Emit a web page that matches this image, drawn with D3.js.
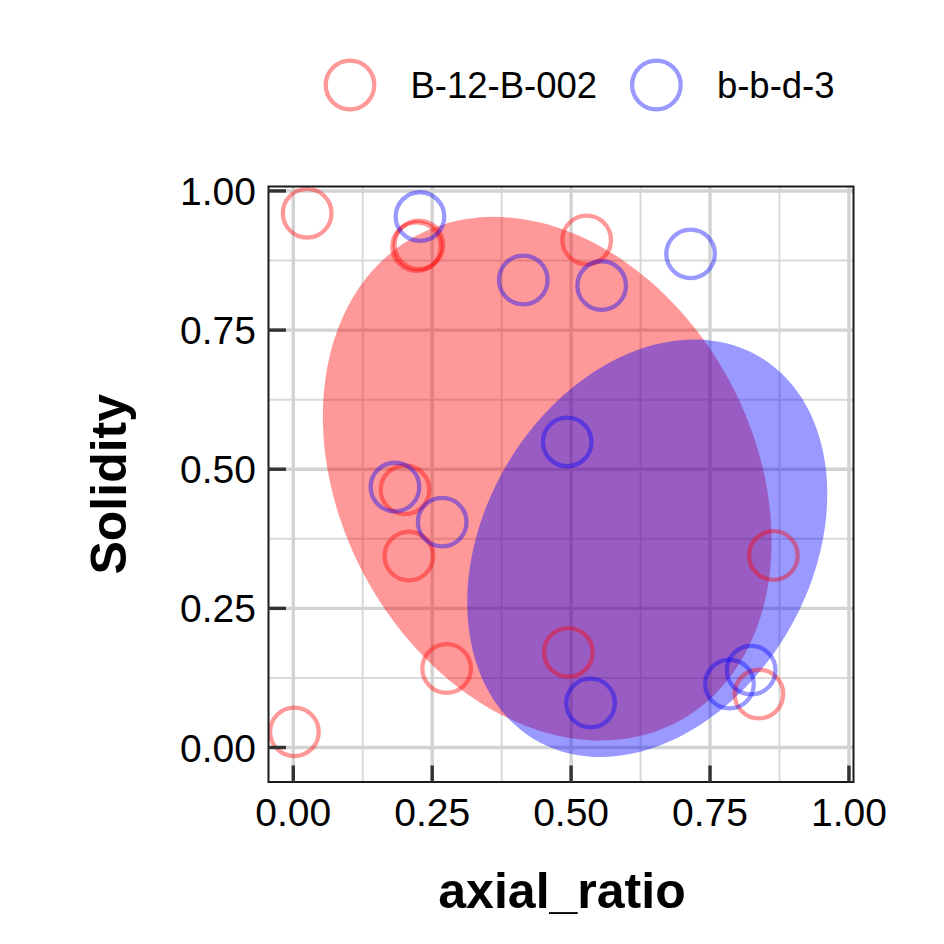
<!DOCTYPE html>
<html>
<head>
<meta charset="utf-8">
<script src="https://cdn.jsdelivr.net/npm/d3@7"></script>
<style>
  html, body { margin: 0; padding: 0; background: #fff; }
  svg { display: block; }
  text { font-family: "Liberation Sans", Arial, Helvetica, sans-serif; }
</style>
</head>
<body>
<svg id="chart" width="944" height="944"></svg>
<script>
// ---------- data ----------
const groups = ["B-12-B-002", "b-b-d-3"];
const groupColors = ["#FF0000", "#0000FF"];

const redX = [0.025, 0.226, 0.222, 0.528, 0.201, 0.208, 0.276, 0.002, 0.838, 0.864, 0.495];
const redY = [0.960, 0.903, 0.900, 0.912, 0.463, 0.344, 0.142, 0.028, 0.096, 0.345, 0.171];

const blueX = [0.228, 0.414, 0.555, 0.715, 0.493, 0.183, 0.268, 0.535, 0.785, 0.824];
const blueY = [0.954, 0.840, 0.830, 0.887, 0.549, 0.468, 0.405, 0.080, 0.114, 0.139];

// ellipse parameters (data units): centre, semi-axes, rotation (degrees)
const ellipseCX = [0.457, 0.637];
const ellipseCY = [0.483, 0.358];
const ellipseA = [0.496, 0.399];
const ellipseB = [0.372, 0.294];
const ellipseAngle = [-61.4, 59.7];

const majorTicks = [0, 0.25, 0.5, 0.75, 1];
const minorTicks = [0.125, 0.375, 0.625, 0.875];
const tickLabels = ["0.00", "0.25", "0.50", "0.75", "1.00"];

// ---------- layout ----------
const svg = d3.select("#chart");
const panel = { left: 268.5, right: 853.5, top: 186.5, bottom: 782 };

const x = d3.scaleLinear().domain([-0.0446, 1.0082]).range([panel.left, panel.right]);
const y = d3.scaleLinear().domain([-0.062, 1.008]).range([panel.bottom, panel.top]);

// grid
const grid = svg.append("g");
grid.selectAll(".vminor").data(minorTicks).enter().append("line")
  .attr("x1", d => x(d)).attr("x2", d => x(d))
  .attr("y1", panel.top).attr("y2", panel.bottom)
  .attr("stroke", "#d9d9d9").attr("stroke-width", 2);
grid.selectAll(".hminor").data(minorTicks).enter().append("line")
  .attr("y1", d => y(d)).attr("y2", d => y(d))
  .attr("x1", panel.left).attr("x2", panel.right)
  .attr("stroke", "#d9d9d9").attr("stroke-width", 2);
grid.selectAll(".vmajor").data(majorTicks).enter().append("line")
  .attr("x1", d => x(d)).attr("x2", d => x(d))
  .attr("y1", panel.top).attr("y2", panel.bottom)
  .attr("stroke", "#d3d3d3").attr("stroke-width", 3.4);
grid.selectAll(".hmajor").data(majorTicks).enter().append("line")
  .attr("y1", d => y(d)).attr("y2", d => y(d))
  .attr("x1", panel.left).attr("x2", panel.right)
  .attr("stroke", "#d3d3d3").attr("stroke-width", 3.4);

// ellipses
function ellipsePoints(i) {
  const n = 180, th = ellipseAngle[i] * Math.PI / 180;
  const pts = [];
  for (let k = 0; k < n; k++) {
    const t = 2 * Math.PI * k / n;
    const ex = ellipseA[i] * Math.cos(t), ey = ellipseB[i] * Math.sin(t);
    pts.push([ellipseCX[i] + ex * Math.cos(th) - ey * Math.sin(th),
              ellipseCY[i] + ex * Math.sin(th) + ey * Math.cos(th)]);
  }
  return pts;
}
const line = d3.line().x(d => x(d[0])).y(d => y(d[1])).curve(d3.curveLinearClosed);
svg.append("clipPath").attr("id", "clip").append("rect")
  .attr("x", panel.left).attr("y", panel.top)
  .attr("width", panel.right - panel.left).attr("height", panel.bottom - panel.top);
const plot = svg.append("g").attr("clip-path", "url(#clip)");
[0, 1].forEach(i => {
  plot.append("path").attr("d", line(ellipsePoints(i)))
    .attr("fill", groupColors[i]).attr("fill-opacity", 0.4).attr("stroke", "none");
});

// points
const series = [
  redX.map((v, i) => ({ x: v, y: redY[i], g: 0 })),
  blueX.map((v, i) => ({ x: v, y: blueY[i], g: 1 }))
];
series.forEach(s => {
  plot.selectAll(null).data(s).enter().append("circle")
    .attr("cx", d => x(d.x)).attr("cy", d => y(d.y)).attr("r", 24.3)
    .attr("fill", "none").attr("stroke", d => groupColors[d.g])
    .attr("stroke-opacity", 0.4).attr("stroke-width", 4.3);
});

// panel border
svg.append("rect")
  .attr("x", panel.left).attr("y", panel.top)
  .attr("width", panel.right - panel.left).attr("height", panel.bottom - panel.top)
  .attr("fill", "none").attr("stroke", "#1a1a1a").attr("stroke-width", 2);

// ticks (inward)
svg.selectAll(".ytick").data(majorTicks).enter().append("line")
  .attr("x1", panel.left).attr("x2", panel.left + 17.5)
  .attr("y1", d => y(d)).attr("y2", d => y(d))
  .attr("stroke", "#333333").attr("stroke-width", 3.4);
svg.selectAll(".xtick").data(majorTicks).enter().append("line")
  .attr("y1", panel.bottom).attr("y2", panel.bottom - 16.5)
  .attr("x1", d => x(d)).attr("x2", d => x(d))
  .attr("stroke", "#333333").attr("stroke-width", 3.4);

// tick labels
svg.selectAll(".ylab").data(majorTicks).enter().append("text")
  .attr("x", 256).attr("y", d => y(d)).attr("dy", "0.36em")
  .attr("text-anchor", "end").attr("font-size", 39).attr("fill", "#000")
  .text((d, i) => tickLabels[i]);
svg.selectAll(".xlab").data(majorTicks).enter().append("text")
  .attr("x", d => x(d)).attr("y", 826)
  .attr("text-anchor", "middle").attr("font-size", 39).attr("fill", "#000")
  .text((d, i) => tickLabels[i]);

// axis titles
svg.append("text").attr("x", (panel.left + panel.right) / 2 + 1).attr("y", 908)
  .attr("text-anchor", "middle").attr("font-size", 50).attr("font-weight", "bold")
  .text("axial_ratio");
svg.append("text")
  .attr("transform", `translate(126,${(panel.top + panel.bottom) / 2}) rotate(-90)`)
  .attr("text-anchor", "middle").attr("font-size", 50).attr("font-weight", "bold")
  .text("Solidity");

// legend
const legendX = [350, 656.4];
const legend = svg.append("g");
groups.forEach((g, i) => {
  legend.append("circle").attr("cx", legendX[i]).attr("cy", 85).attr("r", 24.3)
    .attr("fill", "none").attr("stroke", groupColors[i])
    .attr("stroke-opacity", 0.4).attr("stroke-width", 4.3);
  legend.append("text").attr("x", legendX[i] + 60.5).attr("y", 98)
    .attr("font-size", 36.5).attr("fill", "#000").text(g);
});
</script>
</body>
</html>
